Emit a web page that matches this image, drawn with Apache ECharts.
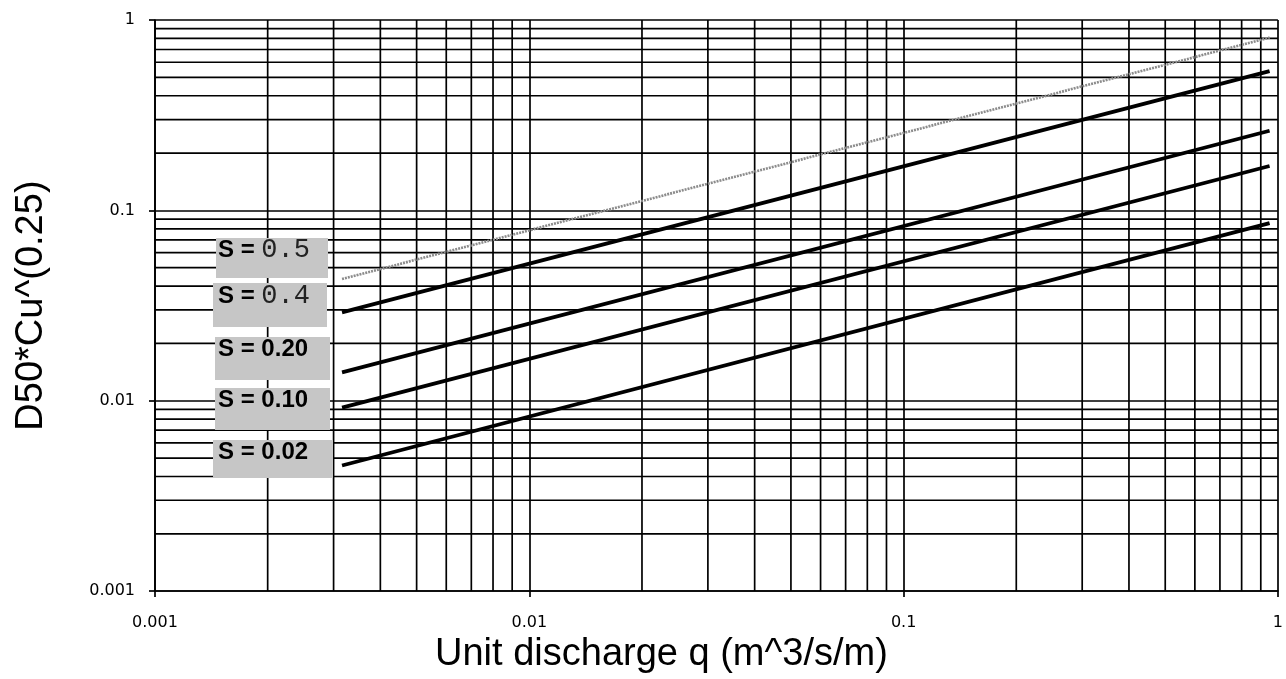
<!DOCTYPE html>
<html>
<head>
<meta charset="utf-8">
<script src="https://cdn.jsdelivr.net/npm/echarts@6/dist/echarts.min.js"></script>
<style>
html,body{margin:0;padding:0;background:#fff;}
#chart{width:1286px;height:679px;}
</style>
</head>
<body>
<div id="chart"></div>
<script>
// ---- data ----
const seriesNames = ['S = 0.5', 'S = 0.4', 'S = 0.20', 'S = 0.10', 'S = 0.02'];
const qValues = [0.00316, 0.95];                 // unit discharge q (start, end)
const s05 = [0.0436, 0.808];
const s04 = [0.0291, 0.539];
const s020 = [0.0141, 0.262];
const s010 = [0.0092, 0.171];
const s002 = [0.00457, 0.0857];
const xTickLabels = ['0.001', '0.01', '0.1', '1'];
const yTickLabels = ['0.001', '0.01', '0.1', '1'];
const minorMultipliers = [2, 3, 4, 5, 6, 7, 8, 9];
const decades = [0.001, 0.01, 0.1];
const axisMin = 0.001, axisMax = 1;

const minorValues = [];
decades.forEach(d => minorMultipliers.forEach(m => minorValues.push(+(d * m).toPrecision(3))));

function tickFmt(labels) {
  return function (v) {
    const e = Math.round(Math.log10(v));
    return labels[e + 3] !== undefined ? labels[e + 3] : '';
  };
}

const gridColor = '#000';
const gridWidth = 1.7;
const allValues = [s05, s04, s020, s010, s002];

// minor grid lines (2..9 per decade) drawn through the log axes
const gridData = [];
minorValues.forEach(v => { gridData.push([v, axisMin], [v, axisMax], [v, '-']); });
minorValues.forEach(v => { gridData.push([axisMin, v], [axisMax, v], ['-', v]); });

const series = [{
  type: 'line',
  data: gridData,
  showSymbol: false,
  symbol: 'none',
  connectNulls: false,
  silent: true,
  animation: false,
  lineStyle: { color: gridColor, width: gridWidth },
  z: 1
}];

allValues.forEach((vals, i) => series.push({
  name: seriesNames[i],
  type: 'line',
  showSymbol: false,
  symbol: 'none',
  data: qValues.map((q, k) => [q, vals[k]]),
  lineStyle: i === 0
    ? { color: '#8c8c8c', width: 2.6, type: [2, 1] }
    : { color: '#000', width: 3.8 },
  z: 5,
  animation: false
}));

const chart = echarts.init(document.getElementById('chart'));
const labelFont = 'DejaVu Sans';
const option = {
  backgroundColor: '#fff',
  animation: false,
  grid: { left: 155, right: 5, top: 20, bottom: 77, containLabel: false },
  xAxis: {
    type: 'log', logBase: 10, min: axisMin, max: axisMax,
    name: 'Unit discharge q (m^3/s/m)',
    nameLocation: 'middle', nameGap: 32,
    nameTextStyle: { fontFamily: 'Liberation Sans', fontSize: 38, color: '#000', padding: [0, 110, 0, 0] },
    axisLine: { show: true, lineStyle: { color: gridColor, width: gridWidth } },
    axisTick: { show: true, inside: false, length: 6, lineStyle: { color: gridColor, width: gridWidth } },
    axisLabel: { formatter: tickFmt(xTickLabels), fontFamily: labelFont, fontSize: 16, color: '#000', margin: 24, showMinLabel: true, showMaxLabel: true },
    splitLine: { show: true, lineStyle: { color: gridColor, width: gridWidth } },
    minorTick: { show: false }, minorSplitLine: { show: false }
  },
  yAxis: {
    type: 'log', logBase: 10, min: axisMin, max: axisMax,
    name: 'D50*Cu^(0.25)',
    nameLocation: 'middle', nameGap: 104,
    nameTextStyle: { fontFamily: 'Liberation Sans', fontSize: 38, color: '#000' },
    axisLine: { show: true, lineStyle: { color: gridColor, width: gridWidth } },
    axisTick: { show: true, inside: false, length: 6, lineStyle: { color: gridColor, width: gridWidth } },
    axisLabel: { formatter: tickFmt(yTickLabels), fontFamily: labelFont, fontSize: 16, color: '#000', margin: 20, showMinLabel: true, showMaxLabel: true },
    splitLine: { show: true, lineStyle: { color: gridColor, width: gridWidth } },
    minorTick: { show: false }, minorSplitLine: { show: false }
  },
  series: series,
  graphic: (function () {
    const boxes = [
      { x: 216, y: 238, w: 112, h: 40, ty: 250 },
      { x: 213, y: 283, w: 114, h: 44, ty: 296 },
      { x: 215, y: 337, w: 115, h: 43, ty: 349 },
      { x: 215, y: 388, w: 115, h: 42, ty: 400 },
      { x: 213, y: 440, w: 120, h: 38, ty: 452 }
    ];
    const texts = [
      '{a|S = }{b|0.5}', '{a|S = }{b|0.4}', '{a|S = 0.20}', '{a|S = 0.10}', '{a|S = 0.02}'
    ];
    const els = [];
    boxes.forEach((b, i) => {
      els.push({ type: 'rect', shape: { x: b.x, y: b.y, width: b.w, height: b.h }, style: { fill: '#c6c6c6' }, z: 10, silent: true });
      els.push({
        type: 'text', x: 218, y: b.ty, z: 11, silent: true,
        style: {
          text: texts[i], verticalAlign: 'middle', align: 'left',
          rich: {
            a: { fontFamily: 'Liberation Sans', fontWeight: 'bold', fontSize: 24, fill: '#000', color: '#000' },
            b: { fontFamily: 'Liberation Mono', fontSize: 27, fill: '#222', color: '#222' }
          }
        }
      });
    });
    return els;
  })()
};
chart.setOption(option);
</script>
</body>
</html>
